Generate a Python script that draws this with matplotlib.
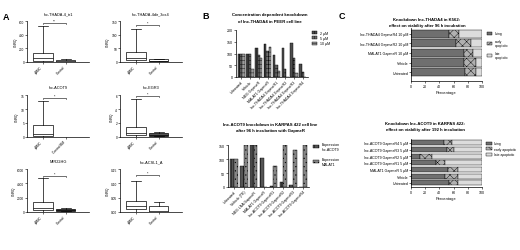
import numpy as np
import matplotlib
matplotlib.use("Agg")
import matplotlib.pyplot as plt
from matplotlib.patches import Patch

plt.rcParams['font.family'] = ['Liberation Sans', 'DejaVu Sans']
plt.rcParams['hatch.linewidth'] = 0.3
plt.rcParams['axes.linewidth'] = 0.5
plt.rcParams['xtick.major.width'] = 0.4
plt.rcParams['ytick.major.width'] = 0.4
plt.rcParams['xtick.major.size'] = 1.2
plt.rcParams['ytick.major.size'] = 1.2
plt.rcParams['xtick.major.pad'] = 0.8
plt.rcParams['ytick.major.pad'] = 0.8

# ---- panel A: box plots (whislo, q1, med, q3, whishi) ----
A_titles = ["lnc-THADA-4_tr1", "lnc-THADA-4dir_3os4", "lnc-ACOT9", "lnc-EGR3", "MIR22HG", "lnc-ACSL1_A"]
A_groups = [["pBMC", "Control"], ["pBMC", "Control"], ["pBMC", "Control BM"],
            ["pBMC", "Control"], ["pBMC", "Control"], ["pBMC", "Control"]]
A_patient = [[0, 10, 60, 130, 530], [0, 8, 15, 35, 122], [0, 0.3, 1.2, 4.3, 13],
             [0.05, 0.25, 0.6, 1.5, 5.4], [0, 230, 610, 1450, 4700], [0, 0.009, 0.02, 0.039, 0.109]]
A_control = [[0, 5, 12, 25, 40], [0, 2, 5, 10, 12], [0, 0, 0, 0.05, 0.1],
             [0.1, 0.2, 0.35, 0.6, 0.75], [100, 170, 300, 470, 520], [0, 0.001, 0.003, 0.02, 0.036]]
A_ticks = [[0, 200, 400, 600], [0, 50, 100, 150], [0, 5, 10, 15],
           [0, 2, 4, 6], [0, 2000, 4000, 6000], [0.00, 0.05, 0.10, 0.15]]
A_ticklabels = [["0", "200", "400", "600"], ["0", "50", "100", "150"], ["0", "5", "10", "15"],
                ["0", "2", "4", "6"], ["0", "2000", "4000", "6000"], ["0.00", "0.05", "0.10", "0.15"]]
A_sig = ["**", "*", "*", "*", "*", "*"]
A_sig_y = [565, 134, 13.9, 5.9, 5060, 0.13]
A_control_dark = [False, False, False, True, True, False]

# ---- panel B ----
B_top_labels = ["Untreated", "Vehicle", "NEG GapmeR", "MALAT1 GapmeR", "lnc-THADA4 GapmeR1",
                "lnc-THADA4 GapmeR2", "lnc-THADA4 GapmeR3", "lnc-THADA4 GapmeR4"]
conc_2uM = [100, 97, 125, 140, 95, 125, 145, 55]
conc_5uM = [100, 100, 93, 112, 53, 33, 82, 20]
conc_10uM = [100, 33, 80, 127, 25, 0, 17, 0]

B_bot_labels = ["Untreated", "Vehicle (TE)", "NEG LNA GapmeR", "MALAT1 GapmeR", "lnc-ACOT9 GapmeR1",
                "lnc-ACOT9 GapmeR2", "lnc-ACOT9 GapmeR3", "lnc-ACOT9 GapmeR4"]
expr_acot9 = [100, 75, 150, 102, 4, 18, 8, 0]
expr_malat1 = [100, 150, 150, 1, 75, 150, 133, 150]

# ---- panel C ----
C_top_cats = ["lnc-THADA4 GapmeR4 10 µM", "lnc-THADA4 GapmeR2 10 µM", "MALAT1 GapmeR 10 µM",
              "Vehicle", "Untreated"]
living_top = [53, 63.5, 74, 74, 76.5]
early_top = [14, 20.5, 13, 18, 15.5]
late_top = [33, 16, 13, 8, 8]

C_bot_cats = ["lnc-ACOT9 GapmeR4 5 µM", "lnc-ACOT9 GapmeR3 5 µM", "lnc-ACOT9 GapmeR2 5 µM",
              "lnc-ACOT9 GapmeR1 5 µM", "MALAT1 GapmeR 5 µM", "Vehicle", "Untreated"]
living_bot = [46.5, 50.5, 12.5, 35.5, 52, 48, 54]
early_bot = [11, 10, 16.5, 12, 13.5, 17.5, 11.5]
late_bot = [42.5, 39.5, 71, 52.5, 34.5, 34.5, 34.5]

W, H = 520, 251
fig = plt.figure(figsize=(W / 100, H / 100), dpi=100)


def px_axes(x0, y0, x1, y1):
    ax = fig.add_axes([x0 / W, 1 - y1 / H, (x1 - x0) / W, (y1 - y0) / H])
    ax.spines['top'].set_visible(False)
    ax.spines['right'].set_visible(False)
    ax.patch.set_alpha(0)
    return ax


def ftext(x, y, s, **kw):
    fig.text(x / W, 1 - y / H, s, **kw)


fs_tick = 2.6
fs_title = 3.1

# panel A
A_boxes = [(27, 22, 89, 63), (120, 22, 182, 63),
           (27, 96, 89, 138), (120, 96, 182, 138),
           (27, 170, 89, 213), (120, 170, 182, 213)]
for i in range(6):
    ax = px_axes(*A_boxes[i])
    stats = []
    for vals, lab in zip([A_patient[i], A_control[i]], A_groups[i]):
        stats.append(dict(whislo=vals[0], q1=vals[1], med=vals[2], q3=vals[3], whishi=vals[4],
                          fliers=[], label=lab))
    bp = ax.bxp(stats, positions=[1, 2], widths=0.85, patch_artist=True, showfliers=False,
                boxprops=dict(linewidth=0.5, edgecolor='black', facecolor='white'),
                whiskerprops=dict(linewidth=0.5), capprops=dict(linewidth=0.5),
                medianprops=dict(linewidth=0.5, color='black'))
    if A_control_dark[i]:
        bp['boxes'][1].set_facecolor('#555555')
    ax.set_xlim(0.31, 3.02)
    ax.set_ylim(A_ticks[i][0], A_ticks[i][-1])
    ax.set_yticks(A_ticks[i])
    ax.set_yticklabels(A_ticklabels[i], fontsize=fs_tick - 0.3)
    ax.set_xticks([1, 2])
    ax.set_xticklabels(A_groups[i], rotation=45, ha='right', fontsize=fs_tick - 0.3)
    ax.set_ylabel("CNRQ", fontsize=fs_tick - 0.3, labelpad=1)
    ax.set_title(A_titles[i], fontsize=fs_title - 0.3, pad=5)
    yb = A_sig_y[i]
    dy = (A_ticks[i][-1] - A_ticks[i][0]) * 0.02
    ax.plot([1, 1, 2, 2], [yb - dy, yb, yb, yb - dy], color='black', lw=0.4, clip_on=False)
    ax.text(1.5, yb + dy * 0.5, A_sig[i], ha='center', va='bottom', fontsize=fs_tick)

ftext(6, 18, "A", fontsize=6.5, fontweight='bold', ha='center', va='center')
ftext(206, 17, "B", fontsize=6.5, fontweight='bold', ha='center', va='center')
ftext(342, 17, "C", fontsize=6.5, fontweight='bold', ha='center', va='center')

# panel B top
ax = px_axes(236, 31, 308, 78)
x = np.arange(len(B_top_labels))
bw = 0.27
ax.bar(x - bw, conc_2uM, bw, color='#4d4d4d', edgecolor='black', lw=0.3, hatch='||||', label='2 µM')
ax.bar(x, conc_5uM, bw, color='#6e6e6e', edgecolor='black', lw=0.3, hatch='++++', label='5 µM')
ax.bar(x + bw, conc_10uM, bw, color='#9a9a9a', edgecolor='black', lw=0.3, hatch='----', label='10 µM')
ax.set_xlim(-0.6, len(x) - 0.4)
ax.set_ylim(0, 200)
ax.set_yticks([0, 50, 100, 150, 200])
ax.tick_params(labelsize=fs_tick)
ax.set_xticks(x)
ax.set_xticklabels(B_top_labels, rotation=45, ha='right', fontsize=fs_tick, rotation_mode='anchor')
ax.legend(loc='upper left', bbox_to_anchor=(1.03, 1.02), fontsize=fs_tick, frameon=False,
          handlelength=1.6, handleheight=0.9, labelspacing=0.4, borderaxespad=0)
ftext(270, 15, "Concentration dependent knockdown", fontsize=fs_title, fontweight='bold', ha='center', va='center')
ftext(270, 22, "of lnc-THADA4 in PEER cell line", fontsize=fs_title, fontweight='bold', ha='center', va='center')

# panel B bottom
ax = px_axes(228, 146, 309, 188)
x = np.arange(len(B_bot_labels))
bw = 0.38
ax.bar(x - bw / 2, expr_acot9, bw, color='#555555', edgecolor='black', lw=0.3, hatch='||||',
       label='Expression\nlnc-ACOT9')
ax.bar(x + bw / 2, expr_malat1, bw, color='#858585', edgecolor='black', lw=0.3, hatch='....',
       label='Expression\nMALAT1')
ax.set_xlim(-0.6, len(x) - 0.4)
ax.set_ylim(0, 150)
ax.set_yticks([0, 50, 100, 150])
ax.tick_params(labelsize=fs_tick)
ax.set_xticks(x)
ax.set_xticklabels(B_bot_labels, rotation=45, ha='right', fontsize=fs_tick, rotation_mode='anchor')
ax.legend(loc='upper left', bbox_to_anchor=(1.03, 1.1), fontsize=fs_tick, frameon=False,
          handlelength=1.6, handleheight=0.9, labelspacing=1.8, borderaxespad=0)
ftext(270, 125, "lnc-ACOT9 knockdown in KARPAS 422 cell line", fontsize=fs_title, fontweight='bold',
      ha='center', va='center')
ftext(270, 131, "after 96 h incubation with GapmeR", fontsize=fs_title, fontweight='bold',
      ha='center', va='center')


def stacked(ax, cats, living, early, late, h):
    y = np.arange(len(cats))
    living = np.array(living)
    early = np.array(early)
    late = np.array(late)
    ax.barh(y, living, h, color='#6f6f6f', edgecolor='black', lw=0.3, label='living')
    ax.barh(y, early, h, left=living, color='#b0b0b0', edgecolor='black', lw=0.3, hatch='xxxx',
            label='early apoptotic')
    ax.barh(y, late, h, left=living + early, color='#dcdcdc', edgecolor='black', lw=0.3,
            label='late apoptotic')
    ax.set_yticks(y)
    ax.set_yticklabels(cats, fontsize=fs_tick)
    ax.set_xlim(0, 100)
    ax.set_xticks([0, 20, 40, 60, 80, 100])
    ax.tick_params(axis='x', labelsize=fs_tick)
    ax.set_xlabel("Percentage", fontsize=fs_tick + 0.3, labelpad=1.5)


# panel C top
ax = px_axes(411, 29, 482, 82)
stacked(ax, C_top_cats, living_top, early_top, late_top, 0.85)
ax.set_ylim(len(C_top_cats) - 1 + 0.93, -0.6)
hs, ls = ax.get_legend_handles_labels()
ax.legend(hs, ['living', 'early\napoptotic', 'late\napoptotic'], loc='upper left',
          bbox_to_anchor=(1.05, 0.96), fontsize=fs_tick - 0.2, frameon=False,
          handlelength=1.6, handleheight=0.9, labelspacing=1.0, borderaxespad=0)
ftext(427, 20, "Knockdown lnc-THADA4 in K562:", fontsize=fs_title, fontweight='bold', ha='center', va='center')
ftext(427, 26, "effect on viability after 96 h incubation", fontsize=fs_title, fontweight='bold',
      ha='center', va='center')

# panel C bottom
ax = px_axes(411, 140, 482, 188)
stacked(ax, C_bot_cats, living_bot, early_bot, late_bot, 0.75)
ax.set_ylim(len(C_bot_cats) - 1 + 0.62, -0.6)
ax.legend(loc='upper left', bbox_to_anchor=(1.04, 0.98), fontsize=fs_tick - 0.2, frameon=False,
          handlelength=1.6, handleheight=0.9, labelspacing=0.45, borderaxespad=0)
ftext(425, 124, "Knockdown lnc-ACOT9 in KARPAS 422:", fontsize=fs_title, fontweight='bold',
      ha='center', va='center')
ftext(425, 130, "effect on viability after 192 h incubation", fontsize=fs_title, fontweight='bold',
      ha='center', va='center')

fig.savefig("out.png", dpi=100)
